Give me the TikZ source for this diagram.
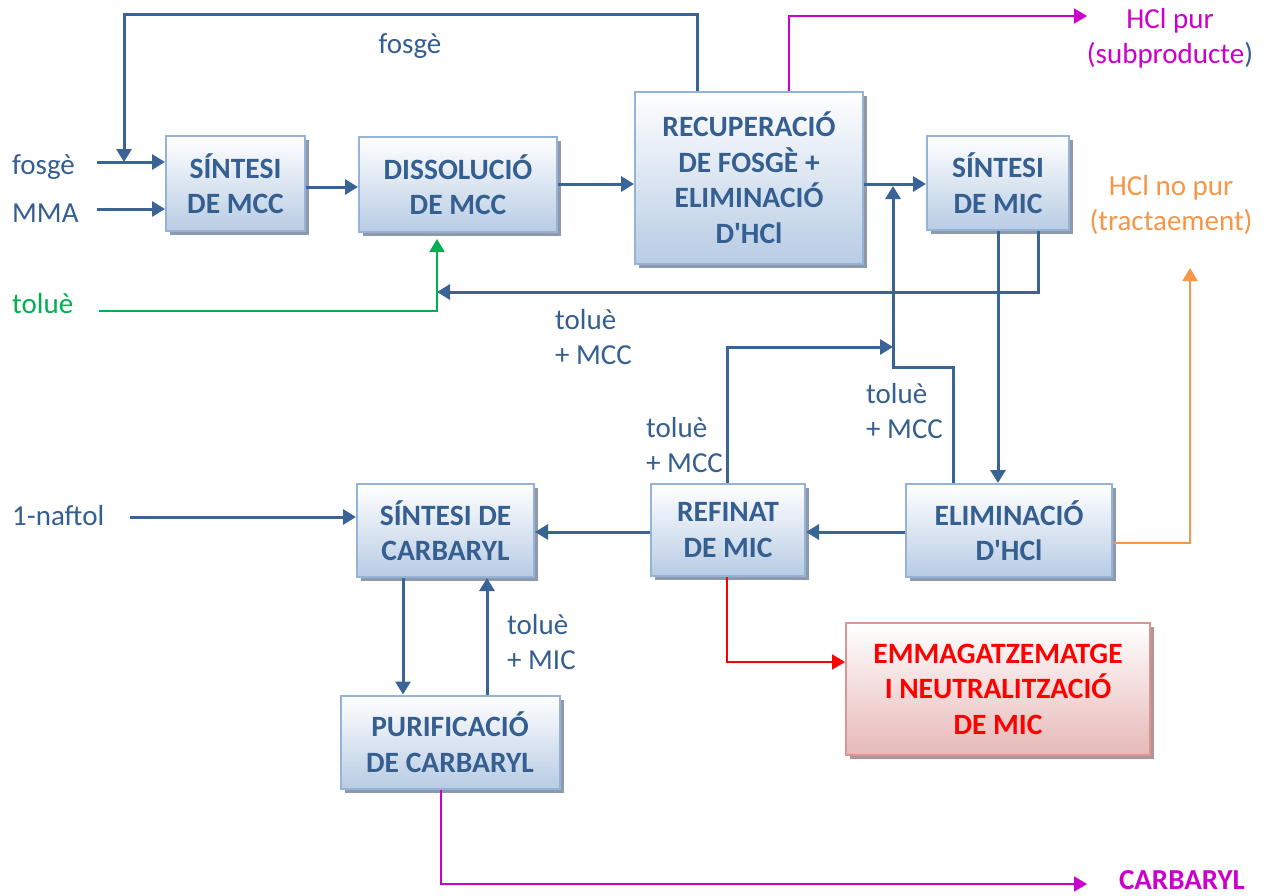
\documentclass[tikz,border=0pt]{standalone}
\usepackage{fontspec}
\setmainfont{Carlito}
\usetikzlibrary{arrows.meta,shadows}
\definecolor{tblue}{HTML}{365F91}
\definecolor{lblue}{HTML}{3A6396}
\definecolor{bord}{HTML}{95B3D7}
\definecolor{boxbot}{HTML}{B8CCE4}
\definecolor{shad}{HTML}{8E9AAB}
\definecolor{mag}{HTML}{CC00CC}
\definecolor{grn}{HTML}{00B050}
\definecolor{org}{HTML}{F79646}
\definecolor{rbord}{HTML}{D99694}
\definecolor{rbot}{HTML}{E6B9B8}
\definecolor{rshad}{HTML}{B39494}
\begin{document}
\begin{tikzpicture}[x=1pt,y=-1pt,
  box/.style={draw=bord, line width=2pt, top color=white, bottom color=boxbot,
    text=tblue, font=\fontsize{29.5}{35.5}\selectfont\bfseries, align=center, inner sep=0pt,
    drop shadow={shadow xshift=4pt, shadow yshift=-4pt, fill=shad, opacity=1}},
  redbox/.style={box, draw=rbord, bottom color=rbot, text=red,
    drop shadow={shadow xshift=4pt, shadow yshift=-4pt, fill=rshad, opacity=1}},
  lbl/.style={text=tblue, font=\fontsize{29}{34.5}\selectfont, inner sep=0pt, align=left},
  tip/.style={-{Triangle[length=13pt,width=15pt]}},
  arr/.style={draw=lblue, line width=3pt, tip},
  marr/.style={draw=mag, line width=2pt, tip},
  garr/.style={draw=grn, line width=2pt, tip},
  oarr/.style={draw=org, line width=2pt, tip},
  rarr/.style={draw=red, line width=2pt, tip}]
\fill[white] (0,0) rectangle (1271,895);
\useasboundingbox (0,0) rectangle (1271,895);

% boxes
\node[box, minimum width=139pt, minimum height=95pt] (b1) at (235.5,183.5) {SÍNTESI\\DE MCC};
\node[box, minimum width=198pt, minimum height=95pt] (b2) at (458,184.5) {DISSOLUCIÓ\\DE MCC};
\node[box, minimum width=228pt, minimum height=172pt] (b3) at (749,177.5) {RECUPERACIÓ\\DE FOSGÈ +\\ELIMINACIÓ\\D\textquotesingle HCl};
\node[box, minimum width=142pt, minimum height=94pt] (b4) at (998,183) {SÍNTESI\\DE MIC};
\node[box, minimum width=206pt, minimum height=93pt] (b5) at (1009,530.5) {ELIMINACIÓ\\D\textquotesingle HCl};
\node[box, minimum width=154pt, minimum height=92pt] (b6) at (728,530) {REFINAT\\DE MIC};
\node[box, minimum width=177pt, minimum height=93pt] (b7) at (445.5,530.5) {SÍNTESI DE\\CARBARYL};
\node[box, minimum width=219pt, minimum height=93pt] (b8) at (450,742) {PURIFICACIÓ\\DE CARBARYL};
\node[redbox, minimum width=304pt, minimum height=132pt] (b9) at (998,689) {EMMAGATZEMATGE\\I NEUTRALITZACIÓ\\DE MIC};

% labels (base anchor = last line baseline)
\node[lbl, anchor=base west] (lfos) at (12,174) {fosgè};
\node[lbl, anchor=base west] (lmma) at (12,222) {MMA};
\node[lbl, anchor=base] (lfos2) at (410,53) {fosgè};
\node[lbl, anchor=base, text=mag, align=center] (lhcl) at (1170,63) {HCl pur\\(subproducte\textcolor{tblue}{)}};
\node[lbl, anchor=base, text=org, align=center] (lhcln) at (1171,230) {HCl no pur\\(tractaement)};
\node[lbl, anchor=base west, text=grn] (ltol) at (12,313) {toluè};
\node[lbl, anchor=base west] (ltm1) at (555,364) {toluè\\+ MCC};
\node[lbl, anchor=base west] (ltm2) at (866,438) {toluè\\+ MCC};
\node[lbl, anchor=base west] (ltm3) at (646,472) {toluè\\+ MCC};
\node[lbl, anchor=base west] (ltmic) at (507,669) {toluè\\+ MIC};
\node[lbl, anchor=base west] (lnaf) at (12,525) {1-naftol};
\node[lbl, anchor=base, text=mag, font=\fontsize{29}{34}\selectfont\bfseries] (lcar) at (1182,889) {CARBARYL};

% coordinates
\coordinate (fin) at (97,162);
\coordinate (min) at (97,209);
\coordinate (r1) at (697,14);
\coordinate (r2) at (124,14);
\coordinate (r3) at (124,162);
\coordinate (m1) at (789,16);
\coordinate (m2) at (1087,16);
\coordinate (t1) at (1038,292);
\coordinate (t2) at (437,292);
\coordinate (g0) at (99,311);
\coordinate (g1) at (437,311);
\coordinate (g2) at (437,239);
\coordinate (u1) at (953,367);
\coordinate (u2) at (893,367);
\coordinate (u3) at (893,186);
\coordinate (v1) at (727,347);
\coordinate (v2) at (893,347);
\coordinate (nin) at (130,517);
\coordinate (o1) at (1190,543);
\coordinate (o2) at (1190,268);
\coordinate (rd1) at (727,662);
\coordinate (c1) at (441,884);
\coordinate (c2) at (1087,884);

% connectors
\draw[arr] (fin) -- (fin -| b1.west);
\draw[arr] (min) -- (min -| b1.west);
\draw[arr] (r1 |- b3.north) -- (r1) -- (r2) -- (r3);
\draw[arr] (b1.east |- 0,187) -- (b2.west |- 0,187);
\draw[arr] (b2.east |- 0,184) -- (b3.west |- 0,184);
\draw[arr] (b3.east |- 0,184) -- (b4.west |- 0,184);
\draw[marr] (m1 |- b3.north) -- (m1) -- (m2);
\draw[arr] (t1 |- b4.south) -- (t1) -- (t2);
\draw[garr] (g0) -- (g1) -- (g2);
\draw[arr] (b4.south -| 998,0) -- (b5.north -| 998,0);
\draw[arr] (u1 |- b5.north) -- (u1) -- (u2) -- (u3);
\draw[arr] (v1 |- b6.north) -- (v1) -- (v2);
\draw[arr] (b5.west |- 0,532) -- (b6.east |- 0,532);
\draw[arr] (b6.west |- 0,532) -- (b7.east |- 0,532);
\draw[arr] (nin) -- (nin -| b7.west);
\draw[arr] (b7.south -| 403,0) -- (b8.north -| 403,0);
\draw[arr] (b8.north -| 487,0) -- (b7.south -| 487,0);
\draw[oarr] (b5.east |- o1) -- (o1) -- (o2);
\draw[rarr] (rd1 |- b6.south) -- (rd1) -- (rd1 -| b9.west);
\draw[marr] (c1 |- b8.south) -- (c1) -- (c2);
\end{tikzpicture}
\end{document}
